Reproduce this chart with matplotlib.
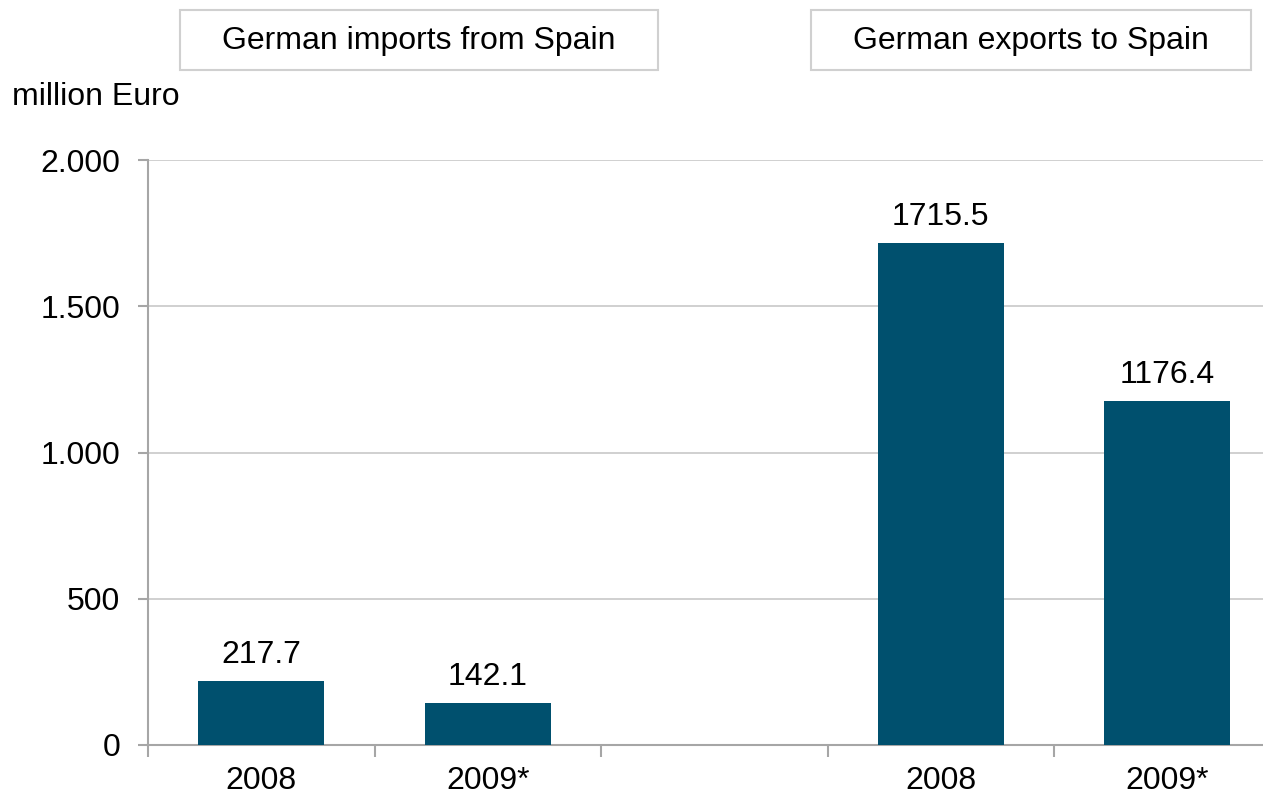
import numpy as np
import matplotlib.pyplot as plt

plt.rcParams['font.family'] = ['Liberation Sans', 'DejaVu Sans']

# data
categories = ['2008', '2009*', '', '2008', '2009*']
values = [217.7, 142.1, np.nan, 1715.5, 1176.4]
labels = ['217.7', '142.1', '', '1715.5', '1176.4']
yticks = [0, 500, 1000, 1500, 2000]
ytick_labels = ['0', '500', '1.000', '1.500', '2.000']
headers = ['German imports from Spain', 'German exports to Spain']

W, H = 1263, 796
fig = plt.figure(figsize=(W/100, H/100), dpi=100)
ax = fig.add_axes([148/W, 1-745/H, 1-148/W, (745-160)/H])

x = np.arange(len(categories))
ax.bar(x, values, width=0.556, color='#00506E', zorder=3)
for xi, v, lab in zip(x, values, labels):
    if lab:
        ax.text(xi, v + 62, lab, ha='center', va='baseline', fontsize=23)

ax.set_yticks(yticks)
ax.set_yticklabels(ytick_labels, fontsize=23)
ax.set_xticks(x)
ax.set_xticklabels(categories, fontsize=23)
ax.set_xticks(np.arange(-0.5, 4.5, 1), minor=True)
ax.set_ylim(0, 2000)
ax.set_xlim(-0.5, -0.5 + (W - 148) / 226.5)
ax.tick_params(axis='x', which='major', length=0, pad=15)
ax.tick_params(axis='x', which='minor', length=8.5, color='#A6A6A6', width=1.5)
ax.tick_params(axis='y', length=7, color='#A6A6A6', width=1.5, pad=13)
ax.grid(axis='y', color='#C8C8C8', linewidth=1.2, zorder=0)
for s in ['top', 'right']:
    ax.spines[s].set_visible(False)
ax.spines['left'].set_color('#A6A6A6')
ax.spines['bottom'].set_color('#A6A6A6')
ax.spines['left'].set_linewidth(1.5)
ax.spines['bottom'].set_linewidth(1.5)

# header boxes
boxes = [(180, 658), (811, 1251)]
for (x0, x1), h in zip(boxes, headers):
    rect = plt.Rectangle((x0/W, 1-70/H), (x1-x0)/W, 60/H, transform=fig.transFigure,
                         facecolor='white', edgecolor='#D0D0D0', linewidth=1.5)
    fig.add_artist(rect)
    fig.text((x0+x1)/2/W, 1-41/H, h, ha='center', va='center', fontsize=23)

fig.text(12/W, 1-97/H, 'million Euro', ha='left', va='center', fontsize=23)

fig.savefig('out.png', dpi=100)
